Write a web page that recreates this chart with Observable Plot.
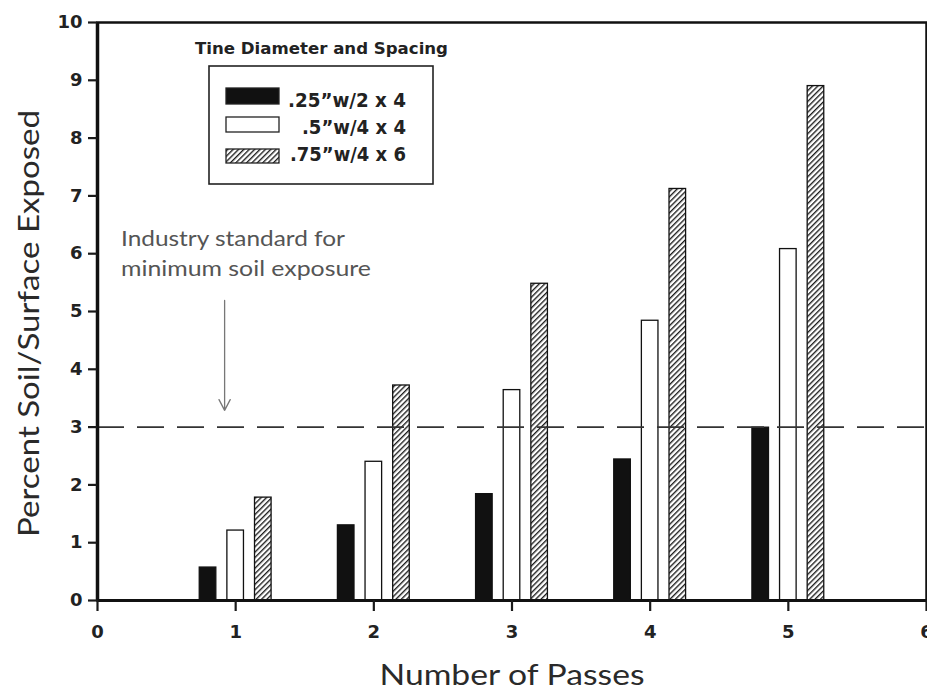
<!DOCTYPE html>
<html><head><meta charset="utf-8">
<script src="https://cdn.jsdelivr.net/npm/d3@7"></script>
<script src="https://cdn.jsdelivr.net/npm/@observablehq/plot@0.6"></script>
<style>
body{margin:0;background:#fff;}
#wrap{position:relative;width:927px;height:690px;}
#legend{position:absolute;left:0;top:0;pointer-events:none;}
</style></head><body><div id="wrap"></div>
<script>
// ---- data ----
const passes = [1, 2, 3, 4, 5];
const seriesNames = [".25\u201Dw/2 x 4", ".5\u201Dw/4 x 4", ".75\u201Dw/4 x 6"];
const smallTine = [0.57, 1.30, 1.84, 2.44, 2.99];
const mediumTine = [1.21, 2.40, 3.64, 4.84, 6.08];
const largeTine = [1.78, 3.72, 5.48, 7.12, 8.90];
const xTicks = [0, 1, 2, 3, 4, 5, 6];
const yTicks = [0, 1, 2, 3, 4, 5, 6, 7, 8, 9, 10];
const industryStandard = [3];
const legendTitle = "Tine Diameter and Spacing";
const xLabel = "Number of Passes";
const yLabel = "Percent Soil/Surface Exposed";
const annotationLines = ["Industry standard for", "minimum soil exposure"];
const annotationPos = [{x: 0.17, y: 6.04}];
const arrowPos = [{x: 0.92, y1: 5.19, y2: 3.29}];

// ---- layout / style ----
const seriesValues = [smallTine, mediumTine, largeTine];
const offsets = [-0.2, 0, 0.2];
const barW = 0.12;
const fills = ["#111", "white", "url(#hatch)"];

const rows = seriesValues.flatMap((vals, s) =>
  passes.map((p, i) => ({pass: p, value: vals[i], s})));

const tickFont = "'DejaVu Sans', Verdana, sans-serif";
const labelFont = "Lato, 'Open Sans', sans-serif";

const barMarks = [0, 1, 2].map(s =>
  Plot.rectY(rows.filter(d => d.s === s), {
    x1: d => d.pass + offsets[s] - barW / 2,
    x2: d => d.pass + offsets[s] + barW / 2,
    y1: 0,
    y2: "value",
    fill: fills[s],
    stroke: "#111",
    strokeWidth: 1.3
  }));

const chart = Plot.plot({
  width: 927,
  height: 690,
  marginLeft: 97,
  marginTop: 22,
  marginRight: 1,
  marginBottom: 90,
  x: {domain: [0, 6]},
  y: {domain: [0, 10]},
  style: {background: "white", color: "#1a1a1a"},
  marks: [
    ...barMarks,
    Plot.ruleY(industryStandard, {stroke: "#333", strokeWidth: 1.6, strokeDasharray: "27,13"}),
    Plot.frame({stroke: "#111", strokeWidth: 2.5}),
    Plot.ruleX([0], {stroke: "#111", strokeWidth: 3.5}),
    Plot.ruleY([0], {stroke: "#111", strokeWidth: 3}),
    Plot.axisY(yTicks, {tickSize: 9, tickPadding: 6, fontSize: 18, fontWeight: "bold",
      fontFamily: tickFont, strokeWidth: 2.2, label: null, fill: "#222", tickFormat: d3.format("d")}),
    Plot.axisX(xTicks, {tickSize: 11, tickPadding: 14, fontSize: 18, fontWeight: "bold",
      fontFamily: tickFont, strokeWidth: 2.2, label: null, fill: "#222", tickFormat: d3.format("d")}),
    Plot.text([annotationLines.join("\n")], {x: annotationPos[0].x, y: annotationPos[0].y, text: d => d,
      textAnchor: "start", lineAnchor: "middle", lineHeight: 1.36, fontSize: 22,
      fontFamily: labelFont, fill: "#555"}),
    Plot.arrow(arrowPos, {x1: "x", x2: "x", y1: "y1", y2: "y2", stroke: "#777",
      strokeWidth: 1.3, headLength: 14, headAngle: 55}),
    Plot.text([xLabel], {frameAnchor: "bottom", text: d => d, dy: 76, lineAnchor: "middle",
      textAnchor: "middle", fontSize: 28, fontFamily: labelFont, fill: "#2a2a2a"}),
    Plot.text([yLabel], {frameAnchor: "left", text: d => d, rotate: -90, dx: -67, dy: 12,
      textAnchor: "middle", lineAnchor: "middle", fontSize: 28, fontFamily: labelFont,
      fill: "#2a2a2a"})
  ]
});

// widen the humanist labels to match the reference proportions
const stretchLengths = new Map([
  [xLabel, 265], [yLabel, 427], [annotationLines[0], 224], [annotationLines[1], 250]
]);
chart.querySelectorAll("text, tspan").forEach(el => {
  if (el.tagName === "text" && el.querySelector("tspan")) return;
  const len = stretchLengths.get(el.textContent);
  if (len) {
    el.setAttribute("textLength", len);
    el.setAttribute("lengthAdjust", "spacingAndGlyphs");
  }
});

// hatch pattern definition
const defs = document.createElementNS("http://www.w3.org/2000/svg", "defs");
defs.innerHTML = `<pattern id="hatch" patternUnits="userSpaceOnUse" width="3.8" height="3.8" patternTransform="rotate(45)">
  <rect width="3.8" height="3.8" fill="white"/>
  <line x1="0.7" y1="0" x2="0.7" y2="3.8" stroke="#111" stroke-width="1.3"/></pattern>`;
chart.insertBefore(defs, chart.firstChild);

const wrap = document.getElementById("wrap");
wrap.appendChild(chart);

// legend overlay
const ns = "http://www.w3.org/2000/svg";
const leg = document.createElementNS(ns, "svg");
leg.setAttribute("id", "legend");
leg.setAttribute("width", 927);
leg.setAttribute("height", 690);
const legFills = ["#111", "white", "url(#hatch)"];
let html = `<text x="195" y="54" textLength="253" lengthAdjust="spacingAndGlyphs" font-family="${tickFont}" font-weight="bold" font-size="16" fill="#222">${legendTitle}</text>
<rect x="209" y="66" width="224" height="118" fill="white" stroke="#222" stroke-width="1.6"/>`;
const swY = [88, 117, 149];
const swH = [16, 15, 14];
const txtY = [107, 134, 161];
const txtLen = [118, 104, 116];
seriesNames.forEach((name, i) => {
  html += `<rect x="226" y="${swY[i]}" width="53" height="${swH[i]}" fill="${legFills[i]}" stroke="#222" stroke-width="1.3"/>`;
  html += `<text x="${406 - txtLen[i]}" y="${txtY[i]}" textLength="${txtLen[i]}" lengthAdjust="spacingAndGlyphs" font-family="${tickFont}" font-weight="bold" font-size="19" fill="#222">${name}</text>`;
});
leg.innerHTML = html;
wrap.appendChild(leg);
</script></body></html>
